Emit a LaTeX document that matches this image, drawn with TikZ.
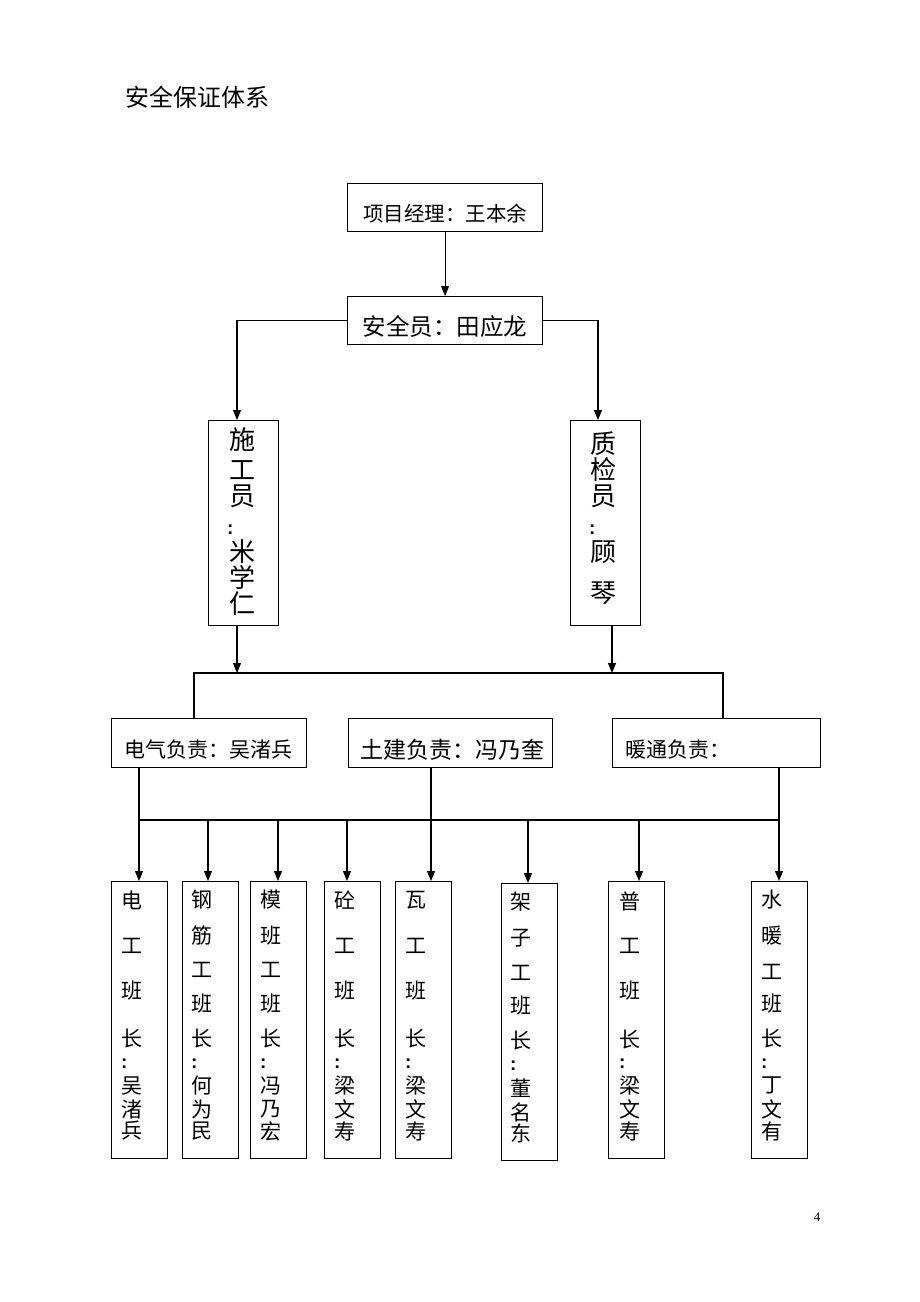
\documentclass[tikz,border=0pt]{standalone}
\usepackage{fontspec}
\setmainfont{Liberation Serif}
\newfontfamily\cjk{Noto Sans CJK SC}
\newfontfamily\colfont{Liberation Sans}
\usetikzlibrary{arrows.meta}
\begin{document}
\begin{tikzpicture}[x=1pt,y=-1pt,
  box/.style={draw, line width=1.1pt, inner sep=0pt, rectangle, anchor=north west},
  cf/.style={font=\cjk\fontsize{#1}{#1}\selectfont, inner sep=0pt},
  conn/.style={line width=1.1pt},
  arr/.style={conn, -{Triangle[length=10pt,width=8pt]}},
  colon/.style={font=\colfont\bfseries\fontsize{19}{19}\selectfont, inner sep=0pt, anchor=west}
]
\useasboundingbox (0,0) rectangle (920,1302);
\fill[white] (0,0) rectangle (920,1302);

\node[cf=24, anchor=west] (title) at (125,97) {安全保证体系};
\node[font=\fontsize{13}{13}\selectfont, inner sep=0pt] (pg) at (817,1217) {4};

% top boxes
\node[box, minimum width=195pt, minimum height=48pt] (A) at (347,183) {};
\node[cf=20.5] (At) at (445,214) {项目经理：王本余};
\node[box, minimum width=195pt, minimum height=48pt] (B) at (347,296) {};
\node[cf=23.5] (Bt) at (445,327) {安全员：田应龙};

% vertical boxes
\node[box, minimum width=70pt, minimum height=205pt] (C) at (208,420) {};
\foreach \c/\y [count=\i] in {施/440,工/470,员/496,米/552,学/577,仁/604}
  \node[cf=26] (Cc\i) at (242,\y) {\c};
\node[colon] (Ck) at (227,530) {:};
\node[box, minimum width=70pt, minimum height=205pt] (D) at (570,420) {};
\foreach \c/\y [count=\i] in {质/444,检/470,员/496,顾/552,琴/593}
  \node[cf=26] (Dc\i) at (603,\y) {\c};
\node[colon] (Dk) at (589,530) {:};

% middle boxes
\node[box, minimum width=195pt, minimum height=49pt] (E) at (111,718) {};
\node[cf=21] (Et) at (208.5,750) {电气负责：吴渚兵};
\node[box, minimum width=204pt, minimum height=49pt] (F) at (348,718) {};
\node[cf=23] (Ft) at (452,750) {土建负责：冯乃奎};
\node[box, minimum width=208pt, minimum height=49pt] (G) at (612,718) {};
\node[cf=21, anchor=west] (Gt) at (625,750) {暖通负责：};

% bottom boxes
\node[box, minimum width=56pt, minimum height=277pt] (b1) at (111,881) {};
\node[box, minimum width=56pt, minimum height=277pt] (b2) at (182,881) {};
\node[box, minimum width=56pt, minimum height=277pt] (b3) at (250,881) {};
\node[box, minimum width=56pt, minimum height=277pt] (b4) at (324,881) {};
\node[box, minimum width=56pt, minimum height=277pt] (b5) at (395,881) {};
\node[box, minimum width=56pt, minimum height=277pt] (b6) at (501,883) {};
\node[box, minimum width=56pt, minimum height=277pt] (b7) at (608,881) {};
\node[box, minimum width=56pt, minimum height=277pt] (b8) at (751,881) {};

\foreach \c/\y [count=\i] in {电/900,工/946,班/991,长/1038,吴/1086,渚/1109,兵/1131}
  \node[cf=21] (b1c\i) at (132,\y) {\c};
\node[colon] (b1k) at (121,1064) {:};
\foreach \c/\y [count=\i] in {钢/900,筋/936,工/970,班/1004,长/1038,何/1086,为/1109,民/1131}
  \node[cf=21] (b2c\i) at (202,\y) {\c};
\node[colon] (b2k) at (191,1064) {:};
\foreach \c/\y [count=\i] in {模/900,班/936,工/970,班/1004,长/1038,冯/1086,乃/1109,宏/1131}
  \node[cf=21] (b3c\i) at (271,\y) {\c};
\node[colon] (b3k) at (260,1064) {:};
\foreach \c/\y [count=\i] in {砼/900,工/946,班/991,长/1038,梁/1086,文/1109,寿/1131}
  \node[cf=21] (b4c\i) at (345,\y) {\c};
\node[colon] (b4k) at (334,1064) {:};
\foreach \c/\y [count=\i] in {瓦/900,工/946,班/991,长/1038,梁/1086,文/1109,寿/1131}
  \node[cf=21] (b5c\i) at (416,\y) {\c};
\node[colon] (b5k) at (405,1064) {:};
\foreach \c/\y [count=\i] in {架/902,子/938,工/973,班/1006,长/1040,董/1088,名/1112,东/1133}
  \node[cf=21] (b6c\i) at (521,\y) {\c};
\node[colon] (b6k) at (510,1066) {:};
\foreach \c/\y [count=\i] in {普/901,工/946,班/991,长/1039,梁/1086,文/1109,寿/1131}
  \node[cf=21] (b7c\i) at (630,\y) {\c};
\node[colon] (b7k) at (619,1064) {:};
\foreach \c/\y [count=\i] in {水/900,暖/936,工/972,班/1004,长/1038,丁/1085,文/1109,有/1131}
  \node[cf=21] (b8c\i) at (772,\y) {\c};
\node[colon] (b8k) at (761,1064) {:};

% connectors
\draw[arr] (A.south) -- (B.north);
\coordinate (cin) at (237,420);
\coordinate (din) at (598,420);
\draw[arr] (B.west) -| (cin);
\draw[arr] (B.east) -| (din);
\coordinate (hl) at (194,673);
\coordinate (hr) at (723,673);
\coordinate (jc) at (237,673);
\coordinate (jd) at (612,673);
\draw[arr] (C.south -| jc) -- (jc);
\draw[arr] (D.south -| jd) -- (jd);
\draw[conn] (E.north -| hl) -- (hl) -- (hr) -- (G.north -| hr);

\coordinate (ml) at (139,820);
\coordinate (mr) at (779,820);
\coordinate (fx) at (431,820);
\draw[conn] (ml) -- (mr);
\draw[arr] (E.south -| ml) -- (b1.north -| ml);
\draw[arr] (F.south -| fx) -- (b5.north -| fx);
\draw[arr] (G.south -| mr) -- (b8.north -| mr);
\coordinate (d2) at (208,820);
\coordinate (d3) at (278,820);
\coordinate (d4) at (347,820);
\coordinate (d6) at (528,820);
\coordinate (d7) at (639,820);
\draw[arr] (d2) -- (b2.north -| d2);
\draw[arr] (d3) -- (b3.north -| d3);
\draw[arr] (d4) -- (b4.north -| d4);
\draw[arr] (d6) -- (b6.north -| d6);
\draw[arr] (d7) -- (b7.north -| d7);
\end{tikzpicture}
\end{document}
